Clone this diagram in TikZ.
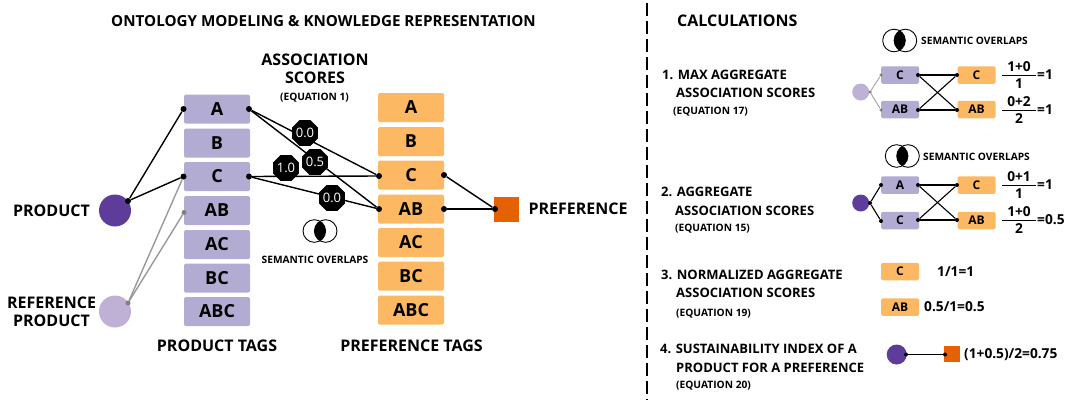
\documentclass[tikz,border=0pt]{standalone}
\usepackage{fontspec}
\setmainfont{Open Sans}
\usepackage{tikz}
\usetikzlibrary{calc,positioning,shapes.geometric}
\definecolor{prodtagcol}{HTML}{B2ABD2}
\definecolor{preftagcol}{HTML}{FDB863}
\definecolor{prodcol}{HTML}{5E3C99}
\definecolor{refcol}{HTML}{BFB0D6}
\definecolor{prefcol}{HTML}{E66101}
\newcommand{\fracnode}[5]{
	\node [calc] (#1num) at (#2,#3-8) {#4};
	\node [calc] (#1den) at (#2,#3+9) {#5};
	\coordinate (#1l) at (#2-17,#3);
	\coordinate (#1r) at (#2+17,#3);
	\draw [line width=1pt] (#1l) -- (#1r);
}
\newcommand{\vennmark}[2]{
	\begin{scope}
		\clip (#1-5.7,#2) circle (11.3pt);
		\fill (#1+5.7,#2) circle (11.3pt);
	\end{scope}
	\draw[line width=0.9pt] (#1-5.7,#2) circle (11.3pt);
	\draw[line width=0.9pt] (#1+5.7,#2) circle (11.3pt);
}
\tikzset{
	prodtag/.style={fill=prodtagcol,rounded corners=1.5pt,minimum width=66pt,minimum height=29pt,inner sep=0pt,font=\fontsize{18}{18}\selectfont\bfseries},
	preftag/.style={prodtag,fill=preftagcol},
	smallprod/.style={prodtag,minimum width=38pt,minimum height=17.5pt,font=\fontsize{12}{12}\selectfont\bfseries},
	smallpref/.style={smallprod,fill=preftagcol},
	joint/.style={circle,fill=black,inner sep=0pt,minimum size=6pt},
	smalljoint/.style={circle,fill=black,inner sep=0pt,minimum size=4pt},
	greyjoint/.style={circle,fill=gray,inner sep=0pt,minimum size=5pt},
	score/.style={regular polygon,regular polygon sides=8,fill=black,text=white,inner sep=0pt,minimum size=27pt,font=\fontsize{13}{13}\selectfont},
	big/.style={inner sep=0pt,font=\fontsize{16}{16}\selectfont\bfseries},
	mid/.style={inner sep=0pt,font=\fontsize{13}{13}\selectfont\bfseries,anchor=west},
	tiny/.style={inner sep=0pt,font=\fontsize{10.2}{10.2}\selectfont\bfseries},
	link/.style={line width=1.4pt},
	smalllink/.style={line width=1.1pt},
	greylink/.style={line width=1.4pt,color=gray!80},
	calc/.style={inner sep=0pt,font=\fontsize{13.7}{15}\selectfont\bfseries}
}
\begin{document}
\begin{tikzpicture}[x=1pt,y=-1pt]
	\useasboundingbox (0,0) rectangle (1070,400);

	% Headings
	\node [big,font=\fontsize{15.2}{15.2}\selectfont\bfseries] (title) at (323.5,21) {ONTOLOGY MODELING \& KNOWLEDGE REPRESENTATION};
	\node [big] (scoreA) at (315,60) {ASSOCIATION};
	\node [big] (scoreB) at (315,78) {SCORES};
	\node [tiny] (scoreC) at (314.5,98) {(EQUATION 1)};
	\node [tiny] (overlap) at (315,260) {SEMANTIC OVERLAPS};
	\node [big] (prodlab) at (51.5,211) {PRODUCT};
	\node [big] (reflabA) at (51.5,303) {REFERENCE};
	\node [big] (reflabB) at (51.5,321) {PRODUCT};
	\node [big] (prodtags) at (217,346) {PRODUCT TAGS};
	\node [big] (preftags) at (411.5,346) {PREFERENCE TAGS};
	\node [big] (preflab) at (578,209) {PREFERENCE};

	% Product tags
	\node [prodtag] (pA) at (217,109) {A};
	\node [prodtag] (pB) at (217,143) {B};
	\node [prodtag] (pC) at (217,176.5) {C};
	\node [prodtag] (pAB) at (217,210.5) {AB};
	\node [prodtag] (pAC) at (217,244.5) {AC};
	\node [prodtag] (pBC) at (217,278) {BC};
	\node [prodtag] (pABC) at (217,311.5) {ABC};

	% Preference tags
	\node [preftag] (qA) at (411,107.5) {A};
	\node [preftag] (qB) at (411,141.5) {B};
	\node [preftag] (qC) at (411,175) {C};
	\node [preftag] (qAB) at (411,209) {AB};
	\node [preftag] (qAC) at (411,242.5) {AC};
	\node [preftag] (qBC) at (411,276) {BC};
	\node [preftag] (qABC) at (411,310) {ABC};

	\node [circle,fill=prodcol,minimum size=32pt,inner sep=0pt] (prod) at (115,210.5) {};
	\node [circle,fill=refcol,minimum size=32pt,inner sep=0pt] (ref) at (115,311.5) {};
	\node [fill=prefcol,minimum size=25pt,inner sep=0pt] (pref) at (506.5,209.5) {};

	% Joints on the big graph
	\node [joint] (prodout) at (128,201) {};
	\node [joint] (pAin) at (183.5,109) {};
	\node [joint] (pCin) at (183.5,176.5) {};
	\node [joint] (pAout) at (249,109) {};
	\node [joint] (pCout) at (249,176.5) {};
	\node [joint] (qCin) at (379,176) {};
	\node [joint] (qABin) at (379,209) {};
	\node [joint] (qCout) at (444,175) {};
	\node [joint] (qABout) at (444,209) {};
	\node [joint] (prefin) at (495,209) {};
	\node [greyjoint] (refout) at (128,303) {};
	\node [greyjoint] (pABin) at (184,212.5) {};

	\draw [greylink] (refout) -- (pCin);
	\draw [greylink] (refout) -- (pABin);
	\draw [link] (prodout) -- (pAin);
	\draw [link] (prodout) -- (pCin);
	\draw [link] (pAout) -- (qCin);
	\draw [link] (pAout) -- (qABin);
	\draw [link] (pCout) -- (qCin);
	\draw [link] (pCout) -- (qABin);
	\draw [link] (qCout) -- (prefin);
	\draw [link] (qABout) -- (prefin);

	% Association scores on the edges
	\node [score] (s1) at (305,133) {0.0};
	\node [score] (s2) at (315,162) {0.5};
	\node [score] (s3) at (286,168) {1.0};
	\node [score] (s4) at (332,198) {0.0};

	\vennmark{320}{231}

	% Divider
	\draw [line width=2pt,dash pattern=on 13pt off 5pt] (647,3) -- (647,400);

	\node [big,anchor=west] (calchead) at (677,21) {CALCULATIONS};

	% Step 1
	\node [mid] (l1a) at (662,75) {1. MAX AGGREGATE};
	\node [mid] (l1b) at (676,93) {ASSOCIATION SCORES};
	\node [tiny,anchor=west] (l1c) at (673,112) {(EQUATION 17)};
	\vennmark{899.7}{40.5}
	\node [tiny,anchor=west] (o1) at (921,41) {SEMANTIC OVERLAPS};
	\node [circle,fill=refcol,minimum size=17pt,inner sep=0pt] (r1) at (860.7,92) {};
	\node [smallprod] (p1C) at (900,75) {C};
	\node [smallprod] (p1AB) at (900,109.5) {AB};
	\node [smallpref] (q1C) at (976.5,75) {C};
	\node [smallpref] (q1AB) at (976.5,109.5) {AB};
	\node [greyjoint,minimum size=3.5pt] (r1out) at (870,92) {};
	\node [greyjoint,minimum size=3.5pt] (p1Cin) at (881,75) {};
	\node [greyjoint,minimum size=3.5pt] (p1ABin) at (881,110) {};
	\node [smalljoint] (p1Cout) at (918,75) {};
	\node [smalljoint] (p1ABout) at (918,110) {};
	\node [smalljoint] (q1Cin) at (957,75) {};
	\node [smalljoint] (q1ABin) at (957,110) {};
	\draw [greylink,line width=0.8pt] (r1out) -- (p1Cin);
	\draw [greylink,line width=0.8pt] (r1out) -- (p1ABin);
	\draw [smalllink] (p1Cout) -- (q1Cin);
	\draw [smalllink] (p1Cout) -- (q1ABin);
	\draw [smalllink] (p1ABout) -- (q1Cin);
	\draw [smalllink] (p1ABout) -- (q1ABin);
	\fracnode{f1a}{1019}{75}{1+0}{1}
	\node [calc,anchor=west] (e1a) at (1037,75) {=1};
	\fracnode{f1b}{1019}{110}{0+2}{2}
	\node [calc,anchor=west] (e1b) at (1037,110) {=1};

	% Step 2
	\node [mid] (l2a) at (661,192) {2. AGGREGATE};
	\node [mid] (l2b) at (675,210.5) {ASSOCIATION SCORES};
	\node [tiny,anchor=west] (l2c) at (675,229) {(EQUATION 15)};
	\vennmark{902.3}{156}
	\node [tiny,anchor=west] (o2) at (923,156.5) {SEMANTIC OVERLAPS};
	\node [circle,fill=prodcol,minimum size=17pt,inner sep=0pt] (r2) at (860.7,203) {};
	\node [smallprod] (p2A) at (900,185) {A};
	\node [smallprod] (p2C) at (900,220.5) {C};
	\node [smallpref] (q2C) at (976.5,185) {C};
	\node [smallpref] (q2AB) at (976.5,220.5) {AB};
	\node [smalljoint] (r2out) at (870,203) {};
	\node [smalljoint] (p2Ain) at (881,185) {};
	\node [smalljoint] (p2Cin) at (881,221) {};
	\node [smalljoint] (p2Aout) at (918,185) {};
	\node [smalljoint] (p2Cout) at (918,220) {};
	\node [smalljoint] (q2Cin) at (957,185) {};
	\node [smalljoint] (q2ABin) at (957,220) {};
	\draw [smalllink] (r2out) -- (p2Ain);
	\draw [smalllink] (r2out) -- (p2Cin);
	\draw [smalllink] (p2Aout) -- (q2Cin);
	\draw [smalllink] (p2Aout) -- (q2ABin);
	\draw [smalllink] (p2Cout) -- (q2Cin);
	\draw [smalllink] (p2Cout) -- (q2ABin);
	\fracnode{f2a}{1019}{185}{0+1}{1}
	\node [calc,anchor=west] (e2a) at (1037,185) {=1};
	\fracnode{f2b}{1019}{220}{1+0}{2}
	\node [calc,anchor=west] (e2b) at (1037,220) {=0.5};

	% Step 3
	\node [mid] (l3a) at (661,274.5) {3. NORMALIZED AGGREGATE};
	\node [mid] (l3b) at (676,293) {ASSOCIATION SCORES};
	\node [tiny,anchor=west] (l3c) at (676,313.5) {(EQUATION 19)};
	\node [smallpref] (q3C) at (900,271.5) {C};
	\node [smallpref] (q3AB) at (900,307) {AB};
	\node [calc,anchor=west] (e3a) at (937,272) {1/1=1};
	\node [calc,anchor=west] (e3b) at (924,307) {0.5/1=0.5};

	% Step 4
	\node [mid] (l4a) at (660,349) {4. SUSTAINABILITY INDEX OF A};
	\node [mid] (l4b) at (676,368) {PRODUCT FOR A PREFERENCE};
	\node [tiny,anchor=west] (l4c) at (676,386) {(EQUATION 20)};
	\node [circle,fill=prodcol,minimum size=20pt,inner sep=0pt] (r4) at (896.7,354.5) {};
	\node [fill=prefcol,minimum size=16pt,inner sep=0pt] (s4sq) at (952,354) {};
	\node [smalljoint] (r4out) at (906,354.5) {};
	\node [smalljoint] (s4in) at (945,354.5) {};
	\draw [smalllink] (r4out) -- (s4in);
	\node [calc,anchor=west] (e4) at (964,355) {(1+0.5)/2=0.75};
\end{tikzpicture}
\end{document}
